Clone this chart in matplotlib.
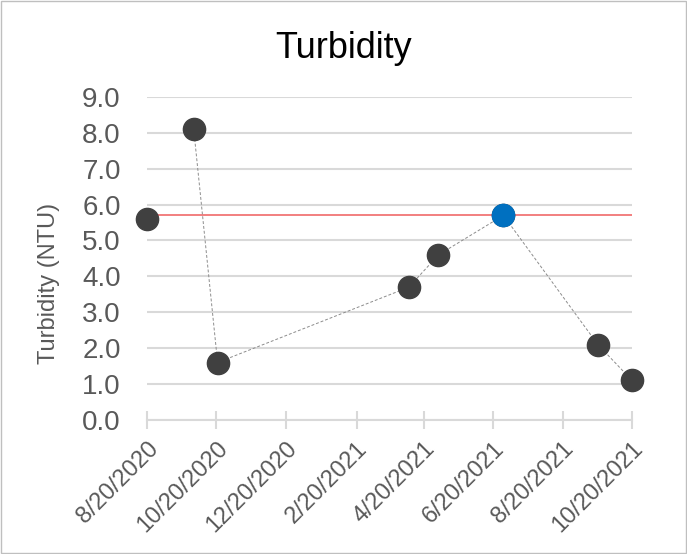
import matplotlib
matplotlib.use("Agg")
import matplotlib.pyplot as plt
from matplotlib.patches import Rectangle
import pandas as pd

# Turbidity samples
first_date = ["2020-08-20"]
first_value = [5.6]
series_dates = ["2020-09-30", "2020-10-21", "2021-04-07", "2021-05-03",
                "2021-06-29", "2021-09-20", "2021-10-20"]
series_values = [8.1, 1.6, 3.7, 4.6, 5.7, 2.1, 1.1]
highlight_date = ["2021-06-29"]
highlight_value = [5.7]
reference_level = 5.7
tick_dates = ["2020-08-20", "2020-10-20", "2020-12-20", "2021-02-20",
              "2021-04-20", "2021-06-20", "2021-08-20", "2021-10-20"]
y_ticks = [0.0, 1.0, 2.0, 3.0, 4.0, 5.0, 6.0, 7.0, 8.0, 9.0]

plt.rcParams["font.family"] = ["Liberation Sans", "DejaVu Sans"]

fig = plt.figure(figsize=(6.87, 5.54), dpi=100)
fig.patches.append(Rectangle((0.002, 0.002), 0.996, 0.996, transform=fig.transFigure,
                             fill=False, edgecolor="#bfbfbf", linewidth=1.0))
ax = fig.add_axes([0.214, 0.242, 0.706, 0.583])

fd = pd.to_datetime(first_date)
sd = pd.to_datetime(series_dates)
hd = pd.to_datetime(highlight_date)
td = pd.to_datetime(tick_dates)

ax.axhline(reference_level, color="#f06a6a", linewidth=1.2, zorder=2)
ax.plot(sd, series_values, linestyle=(0, (3, 2)), color="#8c8c8c", linewidth=0.7, zorder=3)
ax.plot(sd, series_values, linestyle="none", marker="o", markersize=16,
        color="#404040", zorder=4, clip_on=False)
ax.plot(fd, first_value, linestyle="none", marker="o", markersize=16,
        color="#404040", zorder=4, clip_on=False)
ax.plot(hd, highlight_value, linestyle="none", marker="o", markersize=16,
        color="#0070c0", zorder=5)

ax.set_xlim(td[0], td[-1])
ax.set_ylim(0, 9)
ax.set_yticks(y_ticks)
ax.set_yticklabels([f"{v:.1f}" for v in y_ticks])
ax.set_xticks(td)
ax.set_xticklabels([f"{d.month}/{d.day}/{d.year}" for d in td],
                   rotation=45, ha="right", rotation_mode="anchor")

ax.grid(axis="y", color="#d9d9d9", linewidth=1.5)
ax.set_axisbelow(True)
for s in ["top", "right", "left"]:
    ax.spines[s].set_visible(False)
ax.spines["bottom"].set_color("#d9d9d9")
ax.spines["bottom"].set_linewidth(1.5)
ax.spines["bottom"].set_zorder(1)

ax.tick_params(axis="y", length=0, pad=19, labelsize=20, labelcolor="#595959")
ax.tick_params(axis="x", direction="inout", length=13, width=1.5, color="#d9d9d9",
               pad=6, labelsize=17, labelcolor="#595959")

fig.text(0.072, 0.489, "Turbidity (NTU)", rotation=90, ha="center", va="center",
         fontsize=17, color="#595959")
fig.text(0.5, 0.8948, "Turbidity", ha="center", va="baseline", fontsize=26, color="black")

fig.savefig("out.png", dpi=100)
